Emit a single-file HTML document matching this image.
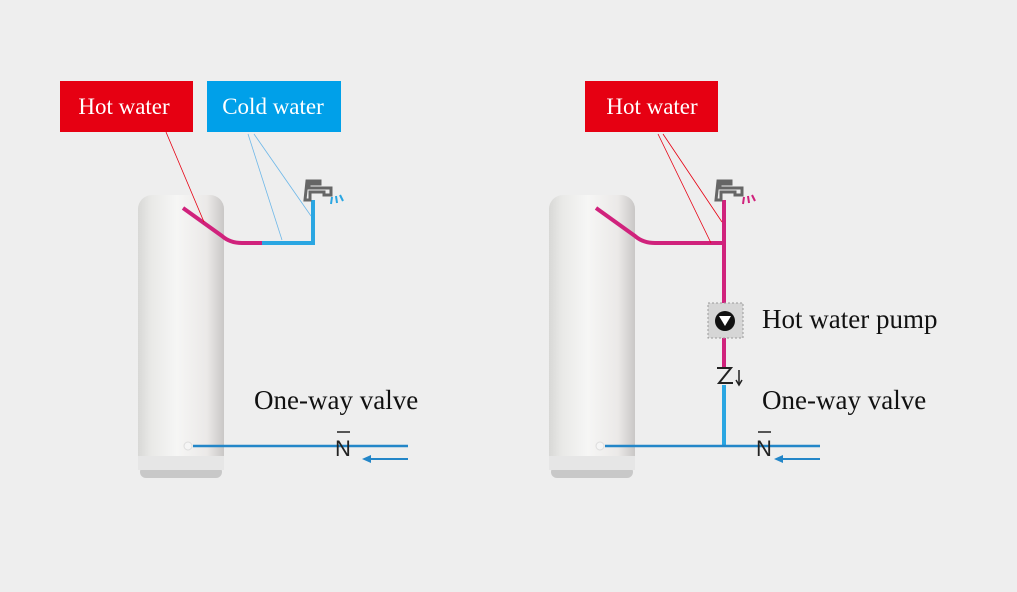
<!DOCTYPE html>
<html><head><style>
body{margin:0;background:#eeeeee;}
svg{display:block}
</style></head><body>
<svg width="1017" height="592" viewBox="0 0 1017 592" xmlns="http://www.w3.org/2000/svg">
<defs>
<linearGradient id="tg" x1="0" x2="1" y1="0" y2="0">
<stop offset="0" stop-color="#d8d8d6"/><stop offset="0.15" stop-color="#e9e9e7"/>
<stop offset="0.45" stop-color="#f6f6f5"/><stop offset="0.8" stop-color="#ebe9e8"/>
<stop offset="1" stop-color="#c9c7c6"/></linearGradient>
</defs>
<rect width="1017" height="592" fill="#eeeeee"/>
<g>
<rect x="138" y="195" width="86" height="280" rx="14" fill="url(#tg)"/>
<rect x="140" y="466" width="82" height="12" rx="6" fill="#c8c8c8"/>
<rect x="138" y="456" width="86" height="14" fill="#e6e6e6"/>
<circle cx="188" cy="446" r="4" fill="#f5f5f5" stroke="#ddd"/>
</g>
<g>
<rect x="549" y="195" width="86" height="280" rx="14" fill="url(#tg)"/>
<rect x="551" y="466" width="82" height="12" rx="6" fill="#c8c8c8"/>
<rect x="549" y="456" width="86" height="14" fill="#e6e6e6"/>
<circle cx="600" cy="446" r="4" fill="#f5f5f5" stroke="#ddd"/>
</g>
<path d="M183 208 L222 236 Q230 243 242 243 L263 243" stroke="#d0227c" stroke-width="4" fill="none"/>
<path d="M262 243 L313 243 L313 200" stroke="#2aa6e2" stroke-width="4" fill="none"/>
<path d="M307 181 h13 v3 h-11 v4 h22 v7 h-7 v-3 h-14 v8 h-5 z" fill="none" stroke="#666" stroke-width="3"/>
<g stroke="#2aa6e2" stroke-width="2"><line x1="332" y1="197" x2="331" y2="204"/><line x1="336" y1="196" x2="337" y2="203"/><line x1="340" y1="195" x2="343" y2="201"/></g>
<rect x="60" y="81" width="133" height="51" fill="#e60012"/>
<text x="124" y="114" text-anchor="middle" font-family="Liberation Serif,serif" font-size="23" fill="#fff">Hot water</text>
<rect x="207" y="81" width="134" height="51" fill="#00a0e9"/>
<text x="273" y="114" text-anchor="middle" font-family="Liberation Serif,serif" font-size="23" fill="#fff">Cold water</text>
<line x1="166" y1="132" x2="204" y2="222" stroke="#e60012" stroke-width="0.8"/>
<line x1="248" y1="134" x2="282" y2="240" stroke="#6fb8e8" stroke-width="0.8"/>
<line x1="254" y1="134" x2="311" y2="216" stroke="#6fb8e8" stroke-width="0.8"/>
<line x1="193" y1="446" x2="408" y2="446" stroke="#2386c8" stroke-width="2.5"/>
<text x="343" y="456" text-anchor="middle" font-family="Liberation Sans,sans-serif" font-size="22" fill="#222">N</text>
<line x1="337" y1="432" x2="350" y2="432" stroke="#222" stroke-width="1.5"/>
<line x1="408" y1="459" x2="368" y2="459" stroke="#2386c8" stroke-width="2"/>
<path d="M362 459 l9 -4 v8 z" fill="#2386c8"/>
<text x="254" y="409" font-family="Liberation Serif,serif" font-size="27" fill="#111">One-way valve</text>
<path d="M596 208 L635 236 Q643 243 655 243 L724 243" stroke="#d0227c" stroke-width="4" fill="none"/>
<line x1="724" y1="200" x2="724" y2="367" stroke="#d0227c" stroke-width="4"/>
<line x1="724" y1="385" x2="724" y2="446" stroke="#2aa6e2" stroke-width="4"/>
<path d="M718 181 h13 v3 h-11 v4 h22 v7 h-7 v-3 h-14 v8 h-5 z" fill="none" stroke="#666" stroke-width="3"/>
<g stroke="#d0227c" stroke-width="2"><line x1="744" y1="197" x2="743" y2="204"/><line x1="748" y1="196" x2="749" y2="203"/><line x1="752" y1="195" x2="755" y2="201"/></g>
<rect x="585" y="81" width="133" height="51" fill="#e60012"/>
<text x="652" y="114" text-anchor="middle" font-family="Liberation Serif,serif" font-size="23" fill="#fff">Hot water</text>
<line x1="658" y1="134" x2="711" y2="243" stroke="#e60012" stroke-width="0.8"/>
<line x1="663" y1="134" x2="722" y2="222" stroke="#e60012" stroke-width="0.8"/>
<rect x="708" y="303" width="35" height="35" fill="#d6d6d6" stroke="#999" stroke-dasharray="2,2"/>
<circle cx="725" cy="321" r="10" fill="#111"/>
<path d="M719 316 h12 l-6 10 z" fill="#fff"/>
<text x="762" y="328" font-family="Liberation Serif,serif" font-size="27" fill="#111">Hot water pump</text>
<path d="M717 368 h14 l-12 15 h14" fill="none" stroke="#222" stroke-width="2"/>
<line x1="739" y1="370" x2="739" y2="384" stroke="#222" stroke-width="1.5"/>
<path d="M736 380 l3 5 l3 -5" fill="none" stroke="#222" stroke-width="1.5"/>
<line x1="605" y1="446" x2="820" y2="446" stroke="#2386c8" stroke-width="2.5"/>
<text x="764" y="456" text-anchor="middle" font-family="Liberation Sans,sans-serif" font-size="22" fill="#222">N</text>
<line x1="758" y1="432" x2="771" y2="432" stroke="#222" stroke-width="1.5"/>
<line x1="820" y1="459" x2="780" y2="459" stroke="#2386c8" stroke-width="2"/>
<path d="M774 459 l9 -4 v8 z" fill="#2386c8"/>
<text x="762" y="409" font-family="Liberation Serif,serif" font-size="27" fill="#111">One-way valve</text>
</svg>
</body></html>
